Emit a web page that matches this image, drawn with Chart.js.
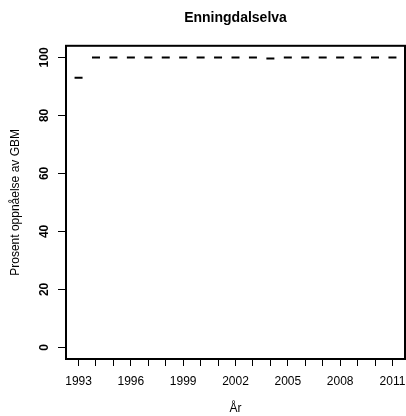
<!DOCTYPE html>
<html>
<head>
<meta charset="utf-8">
<script src="https://cdn.jsdelivr.net/npm/chart.js@4/dist/chart.umd.min.js"></script>
<style>
  html, body { margin: 0; padding: 0; background: #ffffff; }
  #wrap { width: 406px; height: 416px; position: relative; }
</style>
</head>
<body>
<div id="wrap"><canvas id="chart"></canvas></div>
<script>
// Enningdalselva - yearly GBM achievement

const years = [1993, 1994, 1995, 1996, 1997, 1998, 1999, 2000, 2001, 2002,
               2003, 2004, 2005, 2006, 2007, 2008, 2009, 2010, 2011];
const percent = [93, 100, 100, 100, 100, 100, 100, 100, 100, 100,
                 100, 99.6, 100, 100, 100, 100, 100, 100, 100];
const yTicks = [0, 20, 40, 60, 80, 100];
const xLabelYears = [1993, 1996, 1999, 2002, 2005, 2008, 2011];

const fontFamily = "'Liberation Sans', Arial, Helvetica, sans-serif";

// no extra room for overhanging tick labels, the plot box has a fixed place
const noPadding = () => ({ left: 0, top: 0, right: 0, bottom: 0 });

// box around the plot region, like R's box()
const boxPlugin = {
    id: 'box',
    afterDraw(chart) {
        const a = chart.chartArea;
        const c = chart.ctx;
        c.save();
        c.strokeStyle = '#000';
        c.lineWidth = 2;
        c.strokeRect(a.left, a.top, a.right - a.left, a.bottom - a.top);
        c.restore();
    }
};

// y tick labels written vertically and centred on their ticks (R las=0)
const yLabelPlugin = {
    id: 'yLabels',
    afterDraw(chart) {
        const s = chart.scales.y;
        const c = chart.ctx;
        c.save();
        c.fillStyle = '#000';
        c.font = 'bold 12px ' + fontFamily;
        c.textAlign = 'center';
        c.textBaseline = 'middle';
        s.ticks.forEach(t => {
            const y = s.getPixelForValue(t.value);
            c.save();
            c.translate(s.right - 21, y);
            c.rotate(-Math.PI / 2);
            c.fillText(String(t.value), 0, 0);
            c.restore();
        });
        c.restore();
    }
};

new Chart(document.getElementById('chart'), {
    type: 'scatter',
    data: {
        datasets: [{
            data: years.map((y, i) => ({ x: y, y: percent[i] })),
            pointStyle: 'line',
            pointRadius: 4,
            pointHoverRadius: 4,
            borderColor: '#000',
            backgroundColor: '#000',
            borderWidth: 2,
            showLine: false
        }]
    },
    options: {
        responsive: true,
        maintainAspectRatio: false,
        animation: false,
        layout: {
            autoPadding: false,
            padding: { top: 0, right: 1, bottom: 0, left: 0 }
        },
        plugins: {
            legend: { display: false },
            tooltip: { enabled: false },
            title: {
                display: true,
                text: 'Enningdalselva',
                color: '#000',
                fullSize: false,
                font: { family: fontFamily, size: 14, weight: 'bold' },
                padding: { top: 10, bottom: 19 }
            }
        },
        scales: {
            x: {
                type: 'linear',
                min: 1992.28,
                max: 2011.72,
                afterBuildTicks(scale) {
                    scale.ticks = years.map(v => ({ value: v }));
                    scale.getPadding = noPadding;
                },
                afterFit(scale) {
                    scale.height = 57;
                    scale.paddingLeft = 0;
                    scale.paddingRight = 0;
                },
                grid: {
                    drawOnChartArea: false,
                    tickLength: 7,
                    tickColor: '#000',
                    tickWidth: 1
                },
                border: { display: false },
                ticks: {
                    color: '#000',
                    maxRotation: 0,
                    autoSkip: false,
                    padding: 8,
                    font: { family: fontFamily, size: 12 },
                    callback: v => xLabelYears.includes(v) ? String(v) : ''
                },
                title: {
                    display: true,
                    text: 'År',
                    color: '#000',
                    font: { family: fontFamily, size: 12 },
                    padding: { top: 10, bottom: 0 }
                }
            },
            y: {
                min: -4,
                max: 104,
                afterBuildTicks(scale) {
                    scale.ticks = yTicks.map(v => ({ value: v }));
                    scale.getPadding = noPadding;
                },
                afterFit(scale) {
                    scale.width = 66;
                    scale.paddingTop = 0;
                    scale.paddingBottom = 0;
                },
                grid: {
                    drawOnChartArea: false,
                    tickLength: 8,
                    tickColor: '#000',
                    tickWidth: 1
                },
                border: { display: false },
                ticks: {
                    display: false,
                    color: '#000',
                    font: { family: fontFamily, size: 12, weight: 'bold' }
                },
                title: {
                    display: true,
                    text: 'Prosent oppnåelse av GBM',
                    color: '#000',
                    font: { family: fontFamily, size: 12 },
                    padding: { top: 8, bottom: 0 }
                }
            }
        }
    },
    plugins: [boxPlugin, yLabelPlugin]
});
</script>
</body>
</html>
